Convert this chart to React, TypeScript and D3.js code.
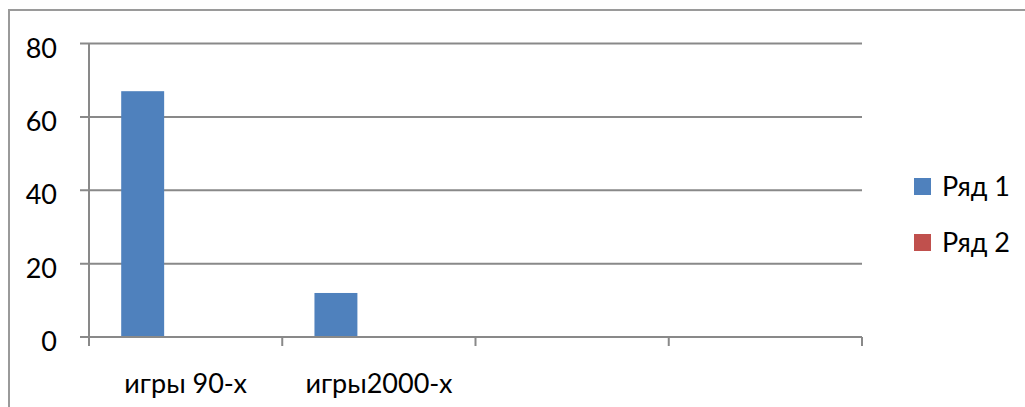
import React from "react";
import * as d3 from "d3";

const categories = ["игры 90-х", "игры2000-х", "", ""];
const seriesNames = ["Ряд 1", "Ряд 2"];
const series1 = [67, 12, null, null];
const series2 = [0, 0, null, null];
const seriesValues = [series1, series2];
const seriesColors = ["#4F81BD", "#C0504D"];
const yTicks = [0, 20, 40, 60, 80];
const slotKeys = ["s0", "s1", "s2"];

const W = 1025;
const H = 407;
const FONT = "Lato, 'Open Sans', sans-serif";

export default function App() {
  const left = 89;
  const right = 862;
  const top = 43.5;
  const bottom = 337;
  const y = d3.scaleLinear().domain([0, 80]).range([bottom, top]);
  const x0 = d3
    .scaleBand<number>()
    .domain(categories.map((_, i) => i))
    .range([left, right])
    .padding(0);
  const x1 = d3
    .scaleBand<string>()
    .domain(slotKeys)
    .range([0, x0.bandwidth()])
    .paddingInner(0)
    .paddingOuter(0.75);
  const gridColor = "#898989";
  const boundaries = categories.map((_, i) => x0(i) as number).concat([right]);

  return (
    <svg
      width={W}
      height={H}
      style={{ position: "absolute", left: 0, top: 0, background: "#fff" }}
      fontFamily={FONT}
    >
      <rect x={0} y={0} width={W} height={H} fill="#fff" />
      <rect x={9} y={10} width={1100} height={600} fill="none" stroke="#9a9a9a" strokeWidth={2} />
      {yTicks.map((t) => (
        <g key={t}>
          <line x1={80} x2={right} y1={y(t)} y2={y(t)} stroke={gridColor} strokeWidth={2} />
          <text x={57} y={y(t) + 3.5} textAnchor="end" dominantBaseline="central" fontSize={27} fill="#000">
            {t}
          </text>
        </g>
      ))}
      {seriesValues.map((vals, si) =>
        vals.map((v, ci) =>
          v == null || v === 0 ? null : (
            <rect
              key={`${si}-${ci}`}
              x={(x0(ci) as number) + (x1(slotKeys[si]) as number)}
              y={y(v)}
              width={x1.bandwidth()}
              height={y(0) - y(v)}
              fill={seriesColors[si]}
            />
          )
        )
      )}
      <line x1={left} x2={left} y1={top} y2={bottom} stroke={gridColor} strokeWidth={2} />
      <line x1={left} x2={right} y1={bottom} y2={bottom} stroke={gridColor} strokeWidth={2} />
      {boundaries.map((b, i) => (
        <line key={i} x1={b} x2={b} y1={bottom} y2={346} stroke={gridColor} strokeWidth={2} />
      ))}
      {categories.map((c, i) => (
        <text
          key={i}
          x={(x0(i) as number) + x0.bandwidth() / 2}
          y={393}
          textAnchor="middle"
          fontSize={27}
          fill="#000"
        >
          {c}
        </text>
      ))}
      {seriesNames.map((n, i) => (
        <g key={n} transform={`translate(914, ${186.5 + i * 56})`}>
          <rect x={0} y={-8.5} width={17} height={17} fill={seriesColors[i]} />
          <text x={28} y={9.5} fontSize={27} fill="#000">
            {n}
          </text>
        </g>
      ))}
    </svg>
  );
}
